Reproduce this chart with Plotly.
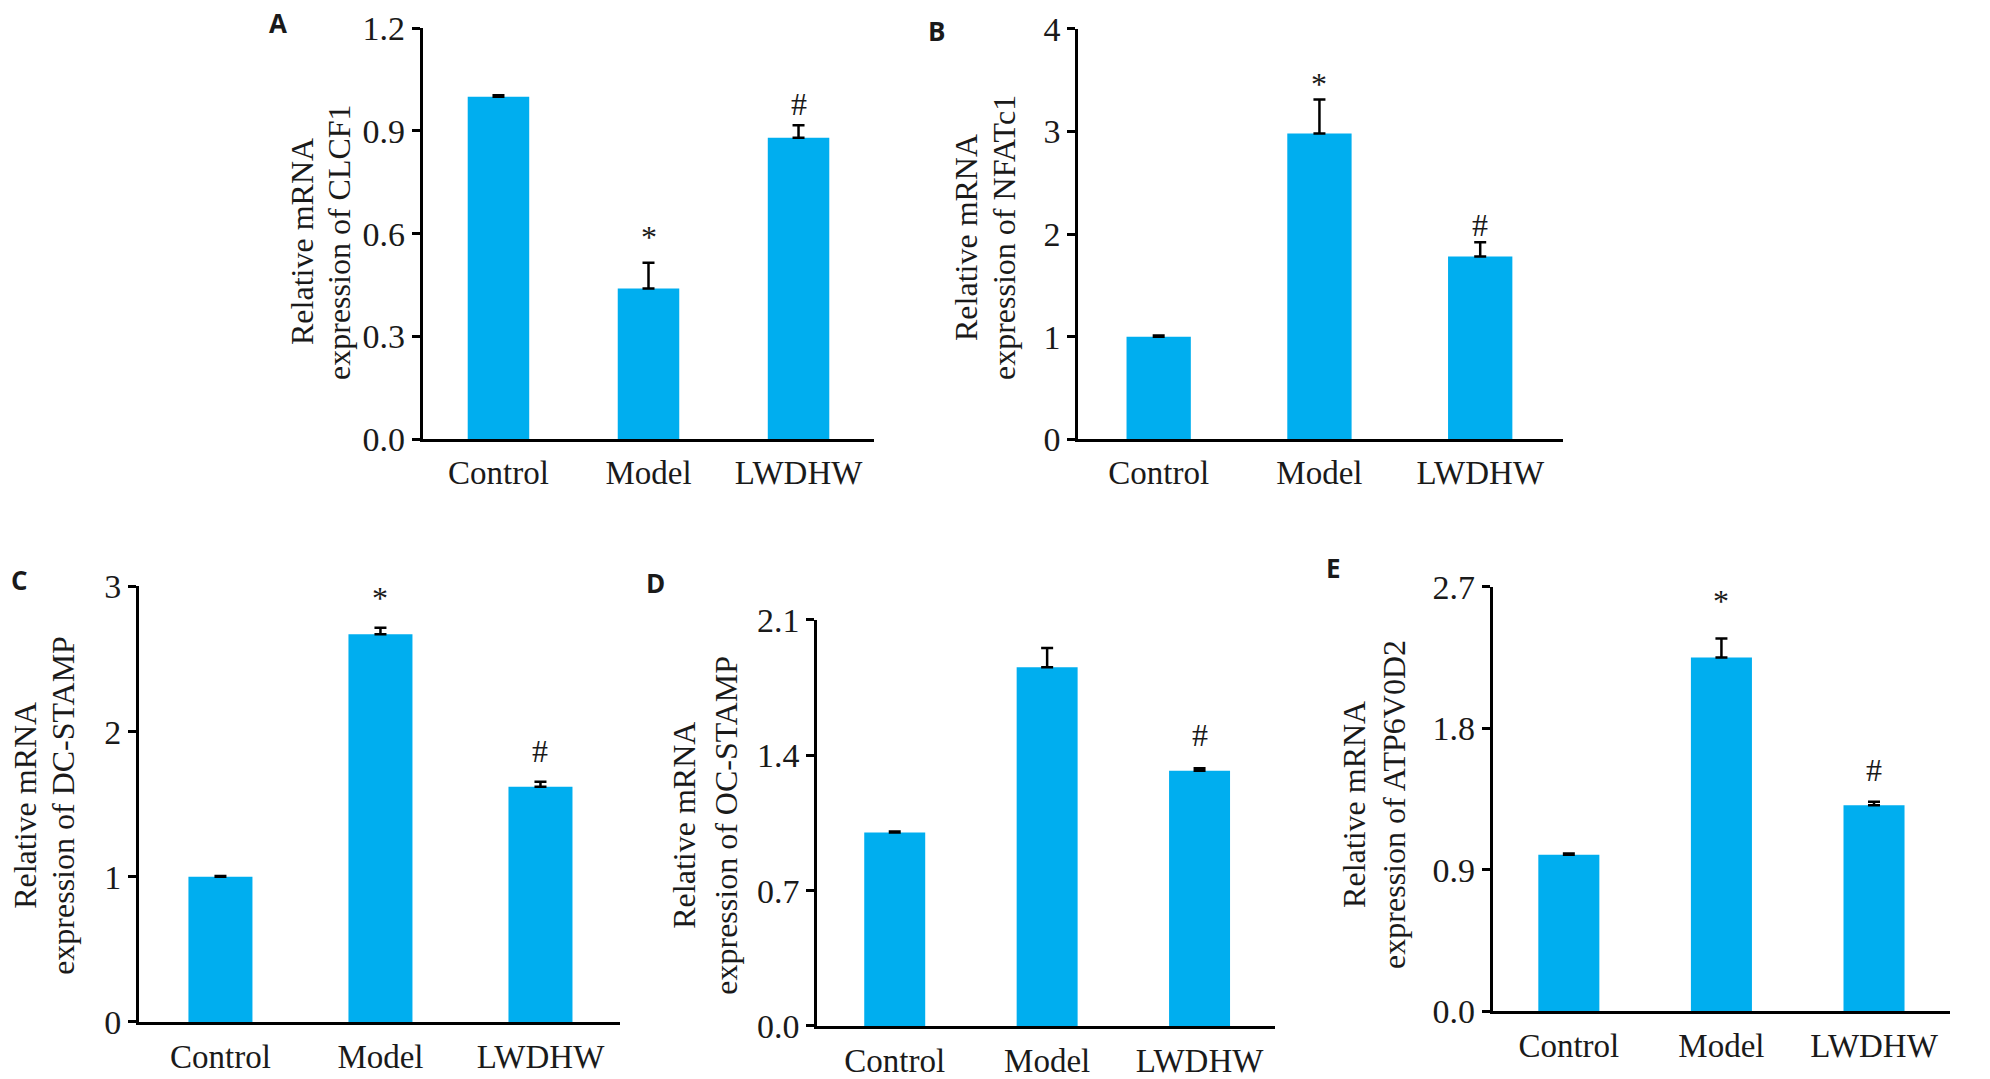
import plotly.graph_objects as go

W, H = 1990, 1079

categories = ["Control", "Model", "LWDHW"]

clcf1 = [1.00, 0.44, 0.88]
clcf1_err = [0.004, 0.075, 0.037]
clcf1_sig_y = [None, 0.61, 0.98]

nfatc1 = [1.00, 2.98, 1.78]
nfatc1_err = [0.012, 0.33, 0.14]
nfatc1_sig_y = [None, 3.53, 2.09]

dcstamp = [1.00, 2.67, 1.62]
dcstamp_err = [0.006, 0.045, 0.035]
dcstamp_sig_y = [None, 2.97, 1.865]

ocstamp = [1.00, 1.855, 1.32]
ocstamp_err = [0.006, 0.10, 0.013]
ocstamp_sig_y = [None, 2.14, 1.506]

atp6v0d2 = [0.995, 2.25, 1.31]
atp6v0d2_err = [0.008, 0.12, 0.022]
atp6v0d2_sig_y = [None, 2.654, 1.533]

sig_marks = ["", "*", "#"]

A_ticks = [0.0, 0.3, 0.6, 0.9, 1.2]
B_ticks = [0, 1, 2, 3, 4]
C_ticks = [0, 1, 2, 3]
D_ticks = [0.0, 0.7, 1.4, 2.1]
E_ticks = [0.0, 0.9, 1.8, 2.7]

BAR = "#00AEEF"
TXT = "#1a1a1a"
SERIF = "Liberation Serif, Times New Roman, serif"

# the capture adds a small band above/below the page; map target pixel rows to figure rows
V_OFF, V_SCALE = 16.4, 0.969


def fy(y_px):
    return (y_px - V_OFF) / V_SCALE


panels = [
    dict(letter="A", vals=clcf1, err=clcf1_err, sig=clcf1_sig_y, ticks=A_ticks, fmt="{:.1f}",
         gene="CLCF1", px=(422.7, 874), py=(26.7, 440.7), xr=(-0.505, 2.503), bw=0.41,
         title_x=(302, 339), title_y=242, letter_pos=(278, 21)),
    dict(letter="B", vals=nfatc1, err=nfatc1_err, sig=nfatc1_sig_y, ticks=B_ticks, fmt="{:.0f}",
         gene="NFATc1", px=(1078.3, 1563), py=(27.3, 440.7), xr=(-0.50, 2.515), bw=0.40,
         title_x=(966, 1004), title_y=238, letter_pos=(936, 29)),
    dict(letter="C", vals=dcstamp, err=dcstamp_err, sig=dcstamp_sig_y, ticks=C_ticks, fmt="{:.0f}",
         gene="DC-STAMP", px=(139, 620), py=(589, 1027.7), xr=(-0.509, 2.497), bw=0.40,
         title_x=(25, 63), title_y=810, letter_pos=(19, 582)),
    dict(letter="D", vals=ocstamp, err=ocstamp_err, sig=ocstamp_sig_y, ticks=D_ticks, fmt="{:.1f}",
         gene="OC-STAMP", px=(817.3, 1275), py=(622.7, 1031.7), xr=(-0.508, 2.495), bw=0.40,
         title_x=(684, 726), title_y=830, letter_pos=(655, 586)),
    dict(letter="E", vals=atp6v0d2, err=atp6v0d2_err, sig=atp6v0d2_sig_y, ticks=E_ticks, fmt="{:.1f}",
         gene="ATP6V0D2", px=(1492.7, 1950), py=(589.3, 1016.7), xr=(-0.499, 2.498), bw=0.40,
         title_x=(1354, 1394), title_y=809, letter_pos=(1333, 570)),
]

fig = go.Figure()
annotations = []
layout = dict(
    width=W, height=H, margin=dict(l=0, r=0, t=0, b=0, pad=0),
    paper_bgcolor="white", plot_bgcolor="white", showlegend=False,
)

for i, p in enumerate(panels):
    n = "" if i == 0 else str(i + 1)
    xa, ya = "x" + n, "y" + n
    fig.add_trace(go.Bar(
        x=[0, 1, 2], y=p["vals"], width=p["bw"], xaxis=xa, yaxis=ya,
        marker=dict(color=BAR, line=dict(width=0)),
        error_y=dict(type="data", array=p["err"], arrayminus=[0, 0, 0], symmetric=False,
                     color="black", thickness=2.5, width=6),
        hoverinfo="skip",
    ))
    xd = [p["px"][0] / W, p["px"][1] / W]
    yd = [1 - fy(p["py"][1]) / H, 1 - fy(p["py"][0]) / H]
    layout["xaxis" + n] = dict(
        domain=xd, range=list(p["xr"]), anchor=ya,
        tickmode="array", tickvals=[0, 1, 2], ticktext=categories,
        showline=True, linecolor="black", linewidth=3, mirror=False,
        ticks="outside", ticklen=2 if i < 2 else 3, tickcolor="rgba(0,0,0,0)",
        showgrid=False, zeroline=False, fixedrange=True,
        tickfont=dict(family=SERIF, size=33, color=TXT),
    )
    layout["yaxis" + n] = dict(
        domain=yd, range=[0, p["ticks"][-1]], anchor=xa,
        tickmode="array", tickvals=p["ticks"], ticktext=[p["fmt"].format(t) for t in p["ticks"]],
        showline=True, linecolor="black", linewidth=3,
        ticks="outside", ticklen=8, tickwidth=2.5, tickcolor="black",
        showgrid=False, zeroline=False, fixedrange=True,
        tickfont=dict(family=SERIF, size=34, color=TXT),
    )
    for j, yv in enumerate(p["sig"]):
        if yv is None:
            continue
        annotations.append(dict(
            x=j, y=yv, xref=xa, yref=ya, text=sig_marks[j], showarrow=False,
            xanchor="center", yanchor="middle", yshift=-7 if sig_marks[j] == "*" else 0,
            font=dict(family=SERIF, size=32, color=TXT),
        ))
    title_lines = ["Relative mRNA", "expression of " + p["gene"]]
    for k, line in enumerate(title_lines):
        annotations.append(dict(
            x=p["title_x"][k] / W, y=1 - fy(p["title_y"]) / H, xref="paper", yref="paper",
            text=line, showarrow=False, textangle=-90,
            xanchor="center", yanchor="middle", align="center",
            font=dict(family=SERIF, size=32, color=TXT),
        ))
    lx, ly = p["letter_pos"]
    annotations.append(dict(
        x=lx / W, y=1 - fy(ly) / H, xref="paper", yref="paper",
        text="<b>" + p["letter"] + "</b>", showarrow=False,
        xanchor="center", yanchor="middle",
        font=dict(family="Open Sans, Noto Sans, sans-serif", size=26, color=TXT),
    ))

layout["annotations"] = annotations
fig.update_layout(**layout)

page_fix = (
    "document.documentElement.style.margin='0';"
    "document.body.style.margin='0';document.body.style.padding='0';"
    "document.body.style.overflow='hidden';"
    "var gd=document.getElementById('{plot_id}');"
    "if(gd&&gd.parentElement){gd.parentElement.style.margin='0';gd.parentElement.style.padding='0';"
    "gd.parentElement.style.lineHeight='0';gd.parentElement.style.fontSize='0';}"
)
fig.write_html("out.html", post_script=page_fix, config={"displayModeBar": False})
